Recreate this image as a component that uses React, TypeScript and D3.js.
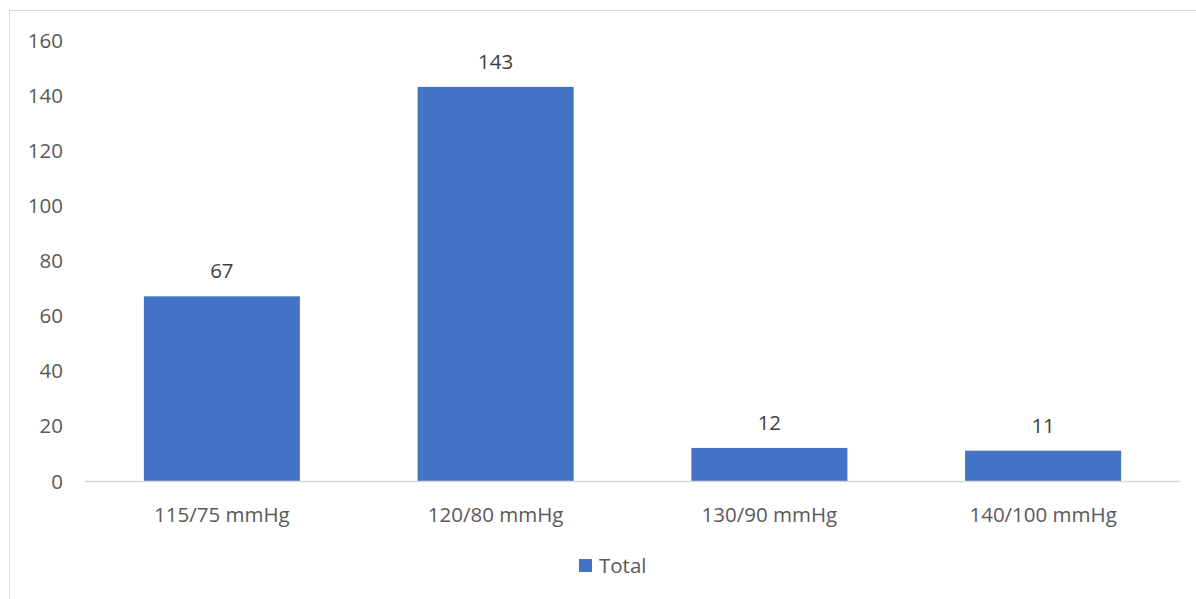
import React from "react";
import * as d3 from "d3";

const categories = ["115/75 mmHg", "120/80 mmHg", "130/90 mmHg", "140/100 mmHg"];
const totals = [67, 143, 12, 11];
const yTicks = [0, 20, 40, 60, 80, 100, 120, 140, 160];
const seriesName = "Total";

const W = 1196;
const H = 599;
const plot = { left: 85, right: 1180, top: 40, bottom: 481 };
const BAR = "#4472C4";
const TEXT = "#595959";
const FONT = "'Open Sans', 'Liberation Sans', sans-serif";
const FS = 20.5;

export default function App() {
  const x = d3
    .scaleBand<string>()
    .domain(categories)
    .range([plot.left, plot.right])
    .paddingInner(0.43)
    .paddingOuter(0.215);
  const y = d3.scaleLinear().domain([0, 160]).range([plot.bottom, plot.top]);

  return (
    <svg
      width={W}
      height={H}
      style={{ position: "absolute", left: 0, top: 0, background: "#fff" }}
      fontFamily={FONT}
    >
      <rect x={9.5} y={10.5} width={W} height={H} fill="none" stroke="#d9d9d9" strokeWidth={1} />
      {yTicks.map((t) => (
        <text key={t} x={63} y={y(t) + 7.5} textAnchor="end" fontSize={FS} fill={TEXT}>
          {t}
        </text>
      ))}
      {categories.map((c, i) => (
        <g key={c}>
          <rect
            x={x(c)!}
            y={y(totals[i])}
            width={x.bandwidth()}
            height={y(0) - y(totals[i])}
            fill={BAR}
          />
          <text
            x={x(c)! + x.bandwidth() / 2}
            y={y(totals[i]) - 18}
            textAnchor="middle"
            fontSize={FS}
            fill={"#404040"}
          >
            {totals[i]}
          </text>
          <text
            x={x(c)! + x.bandwidth() / 2}
            y={522}
            textAnchor="middle"
            fontSize={FS}
            fill={TEXT}
          >
            {c}
          </text>
        </g>
      ))}
      <line x1={plot.left} x2={plot.right} y1={plot.bottom + 0.5} y2={plot.bottom + 0.5} stroke="#d9d9d9" strokeWidth={1.5} />
      <rect x={579} y={559} width={13} height={13} fill={BAR} />
      <text x={599} y={572.5} fontSize={FS} fill={TEXT}>
        {seriesName}
      </text>
    </svg>
  );
}
